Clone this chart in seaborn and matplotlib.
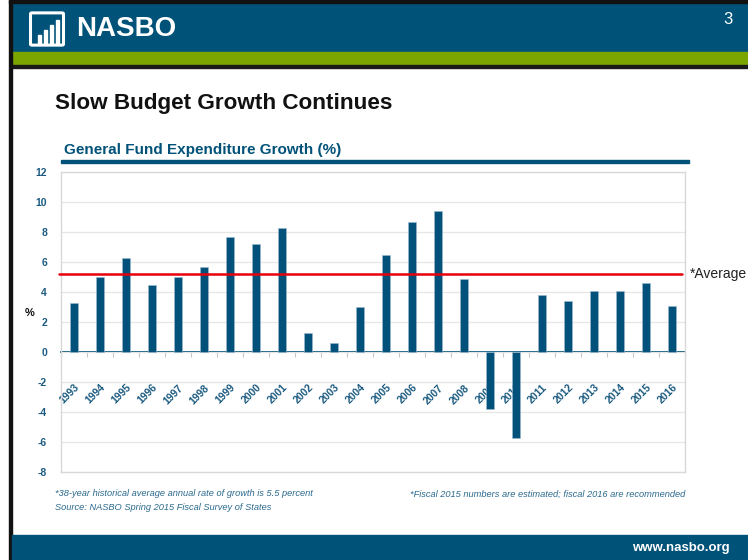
import matplotlib
matplotlib.use("Agg")
import matplotlib.pyplot as plt
import matplotlib.patches as mpatches
import seaborn as sns
import pandas as pd

# data
years = [str(y) for y in range(1993, 2017)]
growth = [3.3, 5.0, 6.3, 4.5, 5.0, 5.7, 7.7, 7.2, 8.3, 1.3, 0.6, 3.0,
          6.5, 8.7, 9.4, 4.9, -3.8, -5.7, 3.8, 3.4, 4.1, 4.1, 4.6, 3.1]
average = 5.2
yticks = list(range(-8, 13, 2))
ymin, ymax = -8, 12

NAVY = "#005279"
BAR = "#01517A"
GREEN = "#7BA600"
TICKC = "#1B5A80"
NOTEC = "#2B6A8E"

sns.set_style("white")
plt.rcParams['font.family'] = ['Liberation Sans', 'DejaVu Sans']

df = pd.DataFrame({'year': years, 'growth': growth})

fig = plt.figure(figsize=(7.48, 5.6), dpi=100)
W, H = 748, 560

def fx(x):
    return x / W

def fy(y):
    return 1 - y / H

def box(x, y, w, h, color, z=0):
    # x, y = top-left corner in pixels
    fig.patches.append(mpatches.Rectangle((fx(x), fy(y + h)), w / W, h / H,
                                          transform=fig.transFigure, color=color, zorder=z))

# slide decoration
box(12, 2, 736, 50, NAVY)
box(9, 0, 739, 3, "#111111")
box(12, 52, 736, 13, GREEN)
box(12, 65, 736, 3, "#1a1a1a")
box(9, 0, 3, 560, "#111111")
box(12, 535, 736, 25, NAVY)
box(61, 160, 628, 2.5, NAVY)  # subtitle underline

# logo
fig.patches.append(mpatches.FancyBboxPatch((fx(32), fy(44)), 30 / W, 30 / H, boxstyle="round,pad=0.002",
                                           transform=fig.transFigure, fill=False, ec="white", lw=2.2, zorder=1))
for bx, bh in [(38, 9), (44, 14), (50, 19), (56, 24)]:
    box(bx, 44 - bh, 3, bh, "white", 1)
fig.text(fx(76), fy(29), "NASBO", color="white", fontsize=20, fontweight='bold', va='center', ha='left')
fig.text(fx(733), fy(20), "3", color="white", fontsize=12, va='center', ha='right')
fig.text(fx(730), fy(548), "www.nasbo.org", color="white", fontsize=9.5, fontweight='bold', va='center', ha='right')

fig.text(fx(55), fy(103), "Slow Budget Growth Continues", color="#111111", fontsize=16.2, fontweight='bold',
         va='center', ha='left')
fig.text(fx(64), fy(150), "General Fund Expenditure Growth (%)", color=NAVY, fontsize=11, fontweight='bold',
         va='center', ha='left')
fig.text(fx(30), fy(313), "%", color="#111111", fontsize=8, fontweight='bold', va='center', ha='center')

# main axes
ax = fig.add_axes([fx(61), fy(472), 624 / W, 300 / H])
sns.barplot(data=df, x='year', y='growth', color=BAR, width=0.34, edgecolor="#9EBBD0", linewidth=0.4,
            saturation=1, ax=ax)
ax.set_xlim(-0.5, len(years) - 0.5)
ax.set_ylim(ymin, ymax)
ax.set_yticks(yticks)
ax.set_yticklabels([str(t) for t in yticks], color=TICKC, fontsize=7.5, fontweight='bold')
ax.tick_params(axis='y', length=0, pad=10)
ax.set_xticks([])
ax.set_xlabel("")
ax.set_ylabel("")
ax.grid(axis='y', color="#E6E6E6", linewidth=0.9)
ax.set_axisbelow(True)
for s in ax.spines.values():
    s.set_color("#D8D8D8")
    s.set_linewidth(1.0)

# average line
ax.axhline(average, color="#E8000B", linewidth=1.8, xmin=-0.003, xmax=0.995, zorder=3, clip_on=False)
ax.text(1.008, average, "*Average", transform=ax.get_yaxis_transform(), color="#222222", fontsize=10,
        va='center', ha='left')

# category axis drawn at zero
zero_loc = (0 - ymin) / (ymax - ymin)
sec = ax.secondary_xaxis(zero_loc)
sec.spines['bottom'].set_color(NAVY)
sec.spines['bottom'].set_linewidth(1.3)
sec.set_xticks(range(len(years)))
sec.set_xticklabels(years, rotation=45, ha='right', va='top', rotation_mode='anchor',
                    color=TICKC, fontsize=7.5, fontweight='bold')
sec.set_xticks([i - 0.5 for i in range(len(years) + 1)], minor=True)
sec.tick_params(axis='x', which='major', length=0, pad=22)
sec.tick_params(axis='x', which='minor', length=3.5, color="#C8C8C8", width=0.8)

# footnotes
fig.text(fx(55), fy(494), "*38-year historical average annual rate of growth is 5.5 percent", color=NOTEC,
         fontsize=6.7, style='italic', va='center', ha='left')
fig.text(fx(55), fy(508), "Source: NASBO Spring 2015 Fiscal Survey of States", color=NOTEC,
         fontsize=6.7, style='italic', va='center', ha='left')
fig.text(fx(685), fy(494), "*Fiscal 2015 numbers are estimated; fiscal 2016 are recommended", color=NOTEC,
         fontsize=6.7, style='italic', va='center', ha='right')

fig.savefig("out.png", dpi=100)
